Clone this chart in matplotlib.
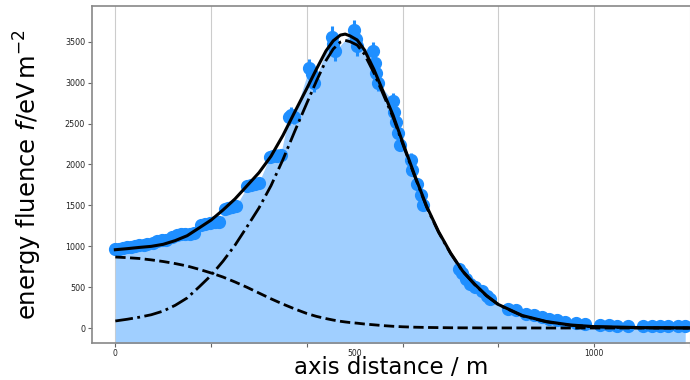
import matplotlib
matplotlib.use('Agg')
import matplotlib.pyplot as plt

x_data = [0, 8, 15, 24, 32, 41, 50, 59, 67, 78, 88, 97, 106, 118, 128, 137, 146, 155, 164,
          178, 188, 198, 208, 217,
          228, 236, 244, 252,
          276, 284, 292, 299,
          322, 330, 338, 345,
          362, 367, 373,
          405, 410, 414,
          452, 455, 458,
          499, 502, 505,
          539, 542, 545, 549,
          580, 582, 587, 591, 595,
          618, 620, 629, 638, 643,
          718, 724, 733, 740, 752, 765, 776, 782,
          819, 836, 857, 874, 892, 906, 923, 940, 961, 981, 1012, 1030, 1047, 1071,
          1102, 1120, 1137, 1154, 1175, 1190]
y_data = [965, 972, 980, 988, 998, 1004, 1012, 1018, 1026, 1045, 1068, 1076, 1082, 1112, 1135, 1146, 1152, 1156, 1160,
          1258, 1276, 1286, 1296, 1302,
          1455, 1468, 1482, 1494,
          1735, 1748, 1758, 1768,
          2088, 2100, 2108, 2118,
          2575, 2610, 2585,
          3180, 3100, 2990,
          3560, 3470, 3380,
          3640, 3530, 3450,
          3380, 3240, 3120, 3000,
          2770, 2640, 2520, 2380, 2240,
          2060, 1930, 1765, 1630, 1500,
          720, 670, 600, 545, 505, 455, 390, 362,
          240, 218, 180, 158, 132, 118, 98, 80, 62, 52, 36, 34, 32, 30,
          28, 28, 27, 26, 25, 25]
y_err = [30, 30, 30, 30, 30, 30, 30, 30, 30, 30, 30, 30, 35, 35, 35, 35, 35, 35, 35,
         40, 40, 40, 40, 40,
         45, 45, 45, 45,
         60, 60, 60, 60,
         75, 75, 75, 75,
         95, 95, 95,
         110, 110, 105,
         125, 125, 120,
         130, 125, 125,
         115, 110, 110, 105,
         100, 95, 90, 85, 80,
         75, 70, 65, 60, 55,
         20, 20, 20, 15, 15, 15, 12, 12,
         10, 10, 10, 10, 10, 10, 10, 10, 10, 10, 10, 10, 10, 10,
         10, 10, 10, 10, 10, 10]

# fit curves
x_fit = [0, 25, 50, 75, 100, 125, 150, 175, 200, 225, 250, 275, 300, 325, 350, 375, 400,
         420, 440, 455, 470, 480, 490, 505, 520, 540, 560, 580, 600, 625, 650, 675, 700,
         725, 750, 775, 800, 850, 900, 950, 1000, 1100, 1200]
f_ce = [870, 862, 852, 835, 815, 790, 760, 720, 675, 625, 565, 500, 430, 360, 295, 235, 180,
        145, 118, 100, 85, 77, 70, 62, 52, 42, 32, 24, 18, 13, 10, 8, 6,
        5, 5, 4, 4, 4, 3, 3, 3, 3, 3]
f_geo = [89, 110, 135, 165, 210, 280, 370, 505, 646, 820, 1015, 1240, 1470, 1740, 2060, 2410, 2750,
         3020, 3270, 3410, 3495, 3515, 3500, 3458, 3348, 3118, 2848, 2576, 2252, 1857, 1480, 1172, 914,
         695, 535, 396, 286, 151, 79, 37, 17, 5, 2]
f_total = [959, 972, 987, 1000, 1025, 1070, 1130, 1225, 1321, 1445, 1580, 1740, 1900, 2100, 2355, 2645, 2930,
           3165, 3388, 3510, 3580, 3592, 3570, 3520, 3400, 3160, 2880, 2600, 2270, 1870, 1490, 1180, 920,
           700, 540, 400, 290, 155, 82, 40, 20, 8, 5]

xtick_major = [0, 200, 400, 600, 800, 1000, 1200]
xtick_labels = [0, 500, 1000]
ytick_vals = [0, 500, 1000, 1500, 2000, 2500, 3000, 3500]

fig = plt.figure(figsize=(6.9, 3.8), dpi=100)
W, H = 690, 380
ax = fig.add_axes([92 / W, (H - 343) / H, 1 - 92 / W, (343 - 6) / H])

ax.fill_between(x_data, y_data, -1000, color='#a0cfff', lw=0, zorder=1)
ax.errorbar(x_data, y_data, yerr=y_err, fmt='o', color='#1f8fff', ms=8.5,
            elinewidth=2.2, capsize=0, zorder=2)
ax.plot(x_fit, f_ce, color='k', ls='--', lw=2, zorder=3)
ax.plot(x_fit, f_geo, color='k', ls='-.', lw=2, zorder=3)
ax.plot(x_fit, f_total, color='k', ls='-', lw=2.2, zorder=4)

ax.set_xlim(-48.7, 1189.5)
ax.set_ylim(-180, 3935)

ax.set_xticks(xtick_major)
ax.set_xticklabels([])
ax.xaxis.remove_overlapping_locs = False
ax.set_xticks(xtick_labels, labels=[str(v) for v in xtick_labels], minor=True)
ax.set_yticks(ytick_vals)
ax.grid(axis='x', color='#cccccc', lw=0.8, zorder=0)
ax.set_axisbelow(True)

ax.tick_params(axis='x', which='major', length=3, width=0.8, color='#666666')
ax.tick_params(axis='x', which='minor', length=0, pad=4, labelsize=5.5, labelcolor='#222222')
ax.tick_params(axis='y', which='major', length=3, width=0.8, color='#666666',
               labelsize=5.8, labelcolor='#222222', pad=2)

for s in ['left', 'bottom', 'top']:
    ax.spines[s].set_color('#888888')
    ax.spines[s].set_linewidth(1.2)
ax.spines['right'].set_visible(False)

ax.set_xlabel('axis distance / m', fontsize=16.5, labelpad=-1)
ax.set_ylabel(r'energy fluence $f$/eV$\,$m$^{-2}$', fontsize=17.5, labelpad=15)

fig.savefig('out.png', dpi=100)
